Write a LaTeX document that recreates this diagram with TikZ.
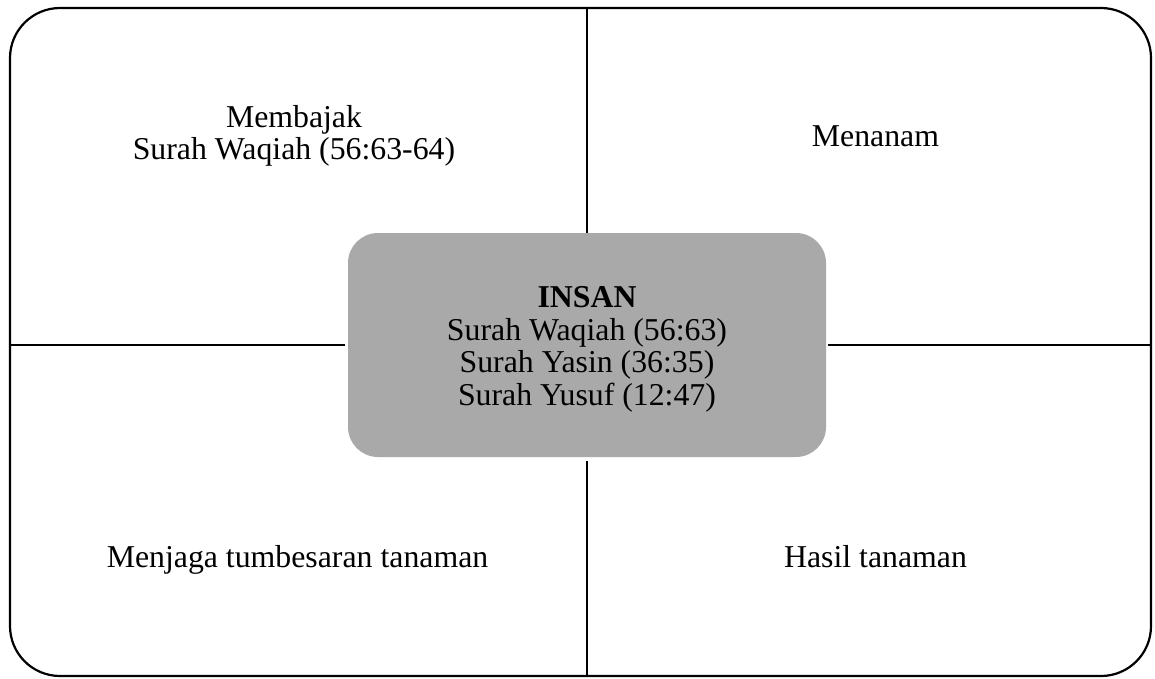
\documentclass[tikz,border=0pt]{standalone}
\usepackage{fontspec}
\setmainfont{Liberation Serif}
\tikzset{
    label text/.style={align=center,font=\fontsize{31.8}{32.5}\selectfont,inner sep=0pt},
    divider/.style={line width=1.6pt}
}
\begin{document}
\begin{tikzpicture}[x=1pt,y=-1pt]
                \useasboundingbox (0,0) rectangle (1155,679);

                \node (frame) at (580.5,342)[draw,line width=2.2pt,rounded corners=50pt,minimum width=1141pt,minimum height=668pt]{};
                \node (insan) at (587,345)[fill={rgb,255:red,169;green,169;blue,169},rounded corners=30pt,minimum width=478pt,minimum height=224pt]{};

                \node (membajak) at (294,160)[label text,anchor=base]{Membajak\\Surah Waqiah (56:63-64)};
                \node (menanam) at (875.5,147)[label text,anchor=base]{Menanam};
                \node (menjaga) at (297.5,567)[label text,anchor=base]{Menjaga tumbesaran tanaman};
                \node (hasil) at (875.5,567)[label text,anchor=base]{Hasil tanaman};
                \node (insantext) at (587,405)[label text,anchor=base]{\textbf{INSAN}\\Surah Waqiah (56:63)\\Surah Yasin (36:35)\\Surah Yusuf (12:47)};

                \draw[divider] (insan.north |- frame.north) -- (insan.north);
                \draw[divider] (insan.south |- frame.south) -- ([yshift=-4pt]insan.south);
                \draw[divider] (frame.west |- insan.west) -- ([xshift=-3pt]insan.west);
                \draw[divider] (frame.east |- insan.east) -- ([xshift=2pt]insan.east);
            \end{tikzpicture}
\end{document}
